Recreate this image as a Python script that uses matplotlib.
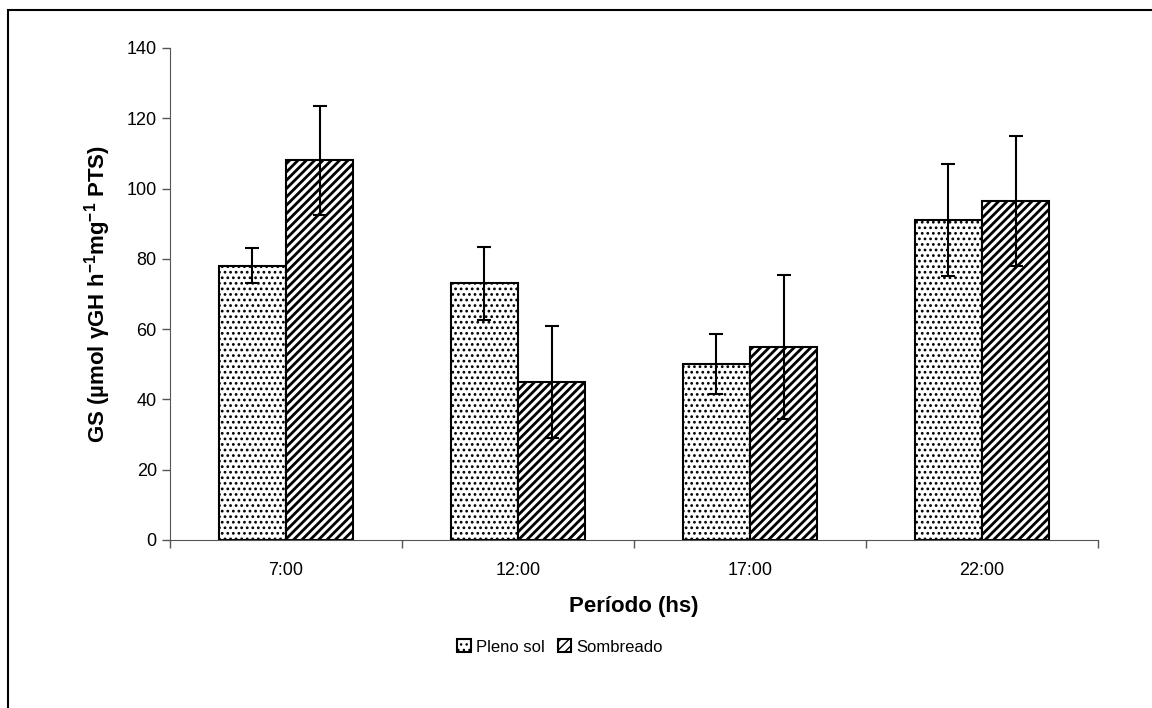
import matplotlib.pyplot as plt
import matplotlib.patches as mpatches
import numpy as np

plt.rcParams['font.family'] = ['Liberation Sans', 'DejaVu Sans']
plt.rcParams['mathtext.fontset'] = 'custom'
plt.rcParams['mathtext.rm'] = 'Liberation Sans:bold'
plt.rcParams['mathtext.it'] = 'Liberation Sans:bold'
plt.rcParams['mathtext.bf'] = 'Liberation Sans:bold'

periods = ['7:00', '12:00', '17:00', '22:00']
pleno_sol = [78, 73, 50, 91]
pleno_err = [5, 10.5, 8.5, 16]
sombreado = [108, 45, 55, 96.5]
sombreado_err = [15.5, 16, 20.5, 18.5]

fig = plt.figure(figsize=(11.52, 7.08), dpi=100)
ax = fig.add_axes([170 / 1152, 1 - 540 / 708, 928 / 1152, 492 / 708])

# outer chart border (only top/left visible, the rest is cropped)
fig.patches.append(mpatches.Rectangle((8 / 1152, -0.05), 1.2, 1 - 10 / 708 + 0.05,
                                      transform=fig.transFigure, fill=False,
                                      edgecolor='black', linewidth=1.5))

x = np.arange(len(periods))
w = 0.29
b1 = ax.bar(x - w / 2, pleno_sol, w, color='white', edgecolor='black', hatch='...',
            linewidth=1.5, label='Pleno sol', zorder=2)
b2 = ax.bar(x + w / 2, sombreado, w, color='white', edgecolor='black', hatch='////',
            linewidth=1.5, label='Sombreado', zorder=2)
for p in b1:
    p.set_hatch_linewidth(1.2)
for p in b2:
    p.set_hatch_linewidth(2.0)
ax.errorbar(x - w / 2, pleno_sol, yerr=pleno_err, fmt='none', ecolor='black',
            elinewidth=1.5, capsize=5, capthick=1.5, zorder=3)
ax.errorbar(x + w / 2, sombreado, yerr=sombreado_err, fmt='none', ecolor='black',
            elinewidth=1.5, capsize=5, capthick=1.5, zorder=3)

ax.set_xlim(-0.5, len(periods) - 0.5)
ax.set_ylim(0, 140)
ax.set_yticks(range(0, 141, 20))
ax.set_xticks(x)
ax.set_xticklabels(periods, fontsize=13)
ax.set_xticks(np.arange(-0.5, len(periods)), minor=True)
ax.tick_params(axis='x', which='major', length=0, pad=16)
ax.tick_params(axis='x', which='minor', length=6, width=1, color='#555555', direction='out')
ax.tick_params(axis='y', labelsize=13, length=6, width=1, color='#555555', direction='out')

for side in ['top', 'right']:
    ax.spines[side].set_visible(False)
ax.spines['left'].set_color('#555555')
ax.spines['bottom'].set_color('#555555')

ax.set_xlabel('Período (hs)', fontsize=16, fontweight='bold', labelpad=12)
ax.set_ylabel('GS (µmol γGH h$^{-1}$mg$^{-1}$ PTS)',
              fontsize=16, fontweight='bold', labelpad=10)

leg = fig.legend(loc='center', bbox_to_anchor=(560 / 1152, 1 - 647 / 708), ncol=2,
                 frameon=False, fontsize=12, handlelength=0.8, handleheight=0.8,
                 handletextpad=0.3, columnspacing=0.8)

fig.savefig('out.png', dpi=100)
